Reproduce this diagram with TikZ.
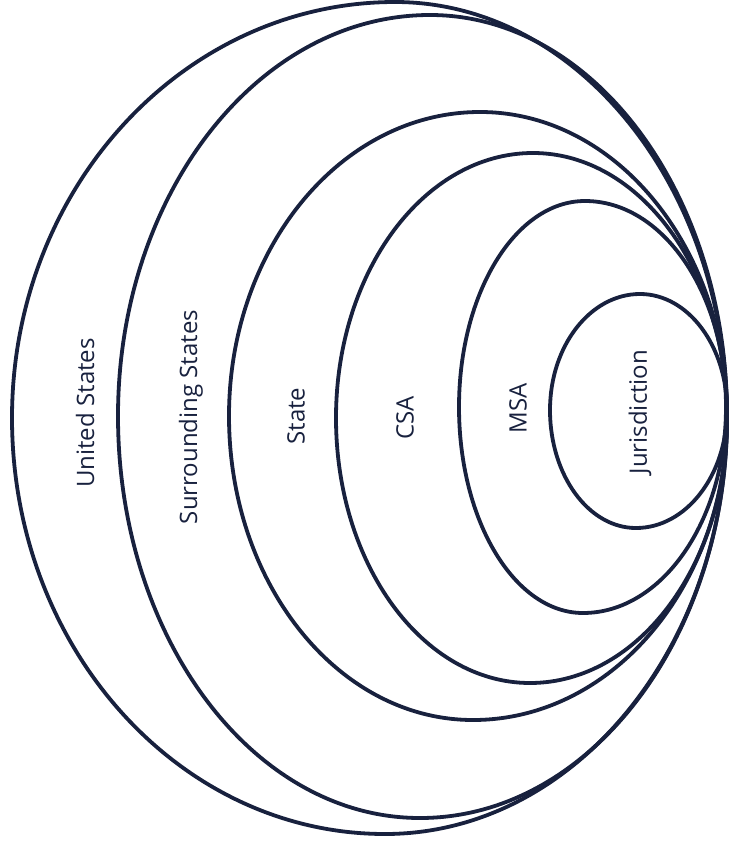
\documentclass[tikz,border=0pt]{standalone}
\usepackage{fontspec}
\setmainfont{Open Sans}
\definecolor{navy}{HTML}{18213E}
% egg shaped ring from four quarter curves:
% #1 centre y, #2 right x, #3/#4 top point, #5 left x, #6/#7 bottom point
\newcommand{\ringshape}[7]{%
	\draw[ring] (#2,#1) .. controls (#2,{#1-0.5523*(#1-#4)}) and ({#3+0.5523*(#2-#3)},#4) .. (#3,#4)
		.. controls ({#3-0.5523*(#3-#5)},#4) and (#5,{#1-0.5523*(#1-#4)}) .. (#5,#1)
		.. controls (#5,{#1+0.5523*(#7-#1)}) and ({#6-0.5523*(#6-#5)},#7) .. (#6,#7)
		.. controls ({#6+0.5523*(#2-#6)},#7) and (#2,{#1+0.5523*(#7-#1)}) .. cycle;}
\begin{document}
\begin{tikzpicture}[x=1pt,y=-1pt,
	ring/.style={draw=navy,line width=3.8pt},
	lbl/.style={text=navy,font=\fontsize{24}{28}\selectfont,rotate=90,inner sep=0pt}]
	\useasboundingbox (0,0) rectangle (730,848);
	%\draw[gray!30, thin, step=50] (0,0) grid (730,848);
	% nested areas, all touching at the right
	\ringshape{418}{727}{395}{2}{12}{385}{834}
	\ringshape{416}{727}{430}{15}{118}{420}{818}
	\ringshape{416}{727}{480}{112}{229}{473}{720}
	\ringshape{418}{727}{533}{153}{336}{530}{683}
	\ringshape{407}{726}{585}{201}{459}{583}{613}
	\ringshape{410}{727}{640}{294}{550}{636}{528}
	
	\node[lbl] (us) at (85,413) {United States};
	\node[lbl] (surr) at (191,417) {Surrounding States};
	\node[lbl] (state) at (296,416) {State};
	\node[lbl] (csa) at (405,418) {CSA};
	\node[lbl] (msa) at (518,408) {MSA};
	\node[lbl] (jur) at (640,412) {Jurisdiction};
\end{tikzpicture}
\end{document}
